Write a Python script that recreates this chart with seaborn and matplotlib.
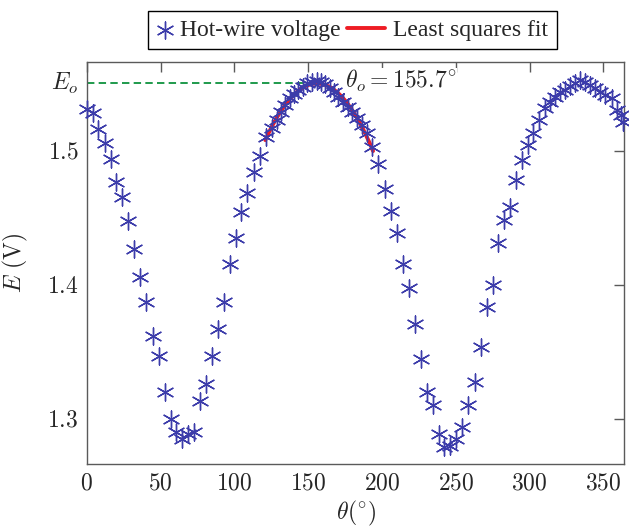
import numpy as np
import pandas as pd
import matplotlib
matplotlib.use("Agg")
import matplotlib.pyplot as plt
from matplotlib.ticker import FuncFormatter
from matplotlib.legend_handler import HandlerLine2D
import seaborn as sns

# ---------------- data ----------------
theta_deg = [0, 4.3, 7.6, 12.2, 16.2, 20, 24.1, 28.1, 31.9, 36, 40.5, 44.6, 48.9,
             53.2, 56.8, 60.6, 64.6, 68.4, 72.7, 76.6, 80.6, 85, 88.7, 93, 97.1,
             101.1, 104.8, 108.9, 113.4, 117.2, 121.8, 125.3, 128.7, 131.6, 134.3,
             137.7, 140.7, 143.4, 146.3, 149.1, 152.4, 155.8, 158.7, 161.4, 164.8,
             167.8, 170.5, 173.8, 177.2, 179.9, 182.9, 186.3, 189.7, 193.0, 197.5,
             202, 206, 210, 214.2, 218.2, 222.4, 226.3, 230.4, 234.4, 238.4, 242.2,
             246.1, 250.2, 254.3, 258.5, 263, 267.1, 271, 275, 278.9, 282.9, 286.8,
             290.9, 294.7, 298.8, 302.6, 306.4, 310.5, 313.9, 317.3, 320.7, 324.1,
             327.4, 330.8, 334.2, 337.6, 341, 344.4, 347.8, 351.1, 355.7, 359.1,
             362, 363.6]
voltage = [1.531, 1.528, 1.516, 1.506, 1.494, 1.4766, 1.4656, 1.4476, 1.427, 1.4058,
           1.3871, 1.3619, 1.3469, 1.320, 1.2995, 1.2898, 1.2846, 1.2888, 1.2903,
           1.3135, 1.3257, 1.3469, 1.3669, 1.3868, 1.4155, 1.4346, 1.454, 1.4682,
           1.4841, 1.496, 1.5104, 1.5167, 1.5229, 1.5291, 1.5341, 1.5391, 1.5421,
           1.5453, 1.5478, 1.5503, 1.5515, 1.552, 1.551, 1.5496, 1.547, 1.544,
           1.5403, 1.5366, 1.5328, 1.5291, 1.5242, 1.5192, 1.513, 1.503, 1.490,
           1.4712, 1.455, 1.4388, 1.4152, 1.3973, 1.3705, 1.3448, 1.3197, 1.3101,
           1.2885, 1.2791, 1.2796, 1.2845, 1.2941, 1.3099, 1.3276, 1.3537, 1.3836,
           1.3998, 1.4309, 1.4483, 1.4582, 1.4781, 1.493, 1.5043, 1.513, 1.5229,
           1.5316, 1.5366, 1.5403, 1.544, 1.5453, 1.5485, 1.5503, 1.5528, 1.5515,
           1.549, 1.5466, 1.544, 1.5416, 1.5391, 1.5304, 1.5266, 1.5216]

fit_range = [121.0, 194.0]       # theta range used for the least squares fit
theta_o = 155.7                  # reported peak angle
theta_o_label = r"$\theta_o = 155.7^{\circ}$"
x_ticks = [0, 50, 100, 150, 200, 250, 300, 350]
y_ticks = [1.3, 1.4, 1.5]
x_limits = [0, 364.2]
y_limits = [1.2662, 1.5662]

# ---------------- styling ----------------
sns.set_style("white")
plt.rcParams["font.family"] = ["Liberation Serif", "DejaVu Serif"]
plt.rcParams["mathtext.fontset"] = "cm"

marker_color = "#3c3caa"
fit_color = "#ee1c24"
dash_color = "#1f9a4c"
spine_color = "#5a5a5a"
FS = 17

df = pd.DataFrame({"theta": theta_deg, "E": voltage})

# least squares (quadratic) fit in the chosen range
sel = df[(df.theta >= fit_range[0]) & (df.theta <= fit_range[1])]
coef = np.polyfit(sel.theta, sel.E, 2)
fit_x = np.linspace(fit_range[0], fit_range[1], 200)
fit_df = pd.DataFrame({"theta": fit_x, "E": np.polyval(coef, fit_x)})
E_o = float(np.polyval(coef, theta_o))

fig = plt.figure(figsize=(6.29, 5.29), dpi=100)
ax = fig.add_axes([86.7 / 629, 1 - 464 / 529, (624.3 - 86.7) / 629, (464 - 62) / 529])

# dashed line at E_o
sns.lineplot(x=[0, theta_o], y=[E_o, E_o], ax=ax, color=dash_color, linewidth=1.4,
             dashes=False, linestyle=(0, (3.8, 2.2)), zorder=1)

# least squares fit
sns.lineplot(data=fit_df, x="theta", y="E", ax=ax, color=fit_color, linewidth=2.8,
             zorder=2, label="Least squares fit")

# data points
sns.scatterplot(data=df, x="theta", y="E", ax=ax, marker=(6, 2, 0), s=150,
                color=marker_color, linewidth=1.0, zorder=3, clip_on=False,
                label="Hot-wire voltage")

ax.set_xlim(*x_limits)
ax.set_ylim(*y_limits)
ax.set_xticks(x_ticks)
ax.set_yticks(y_ticks)
ax.xaxis.set_major_formatter(FuncFormatter(lambda v, p: r"$%g$" % v))
ax.yaxis.set_major_formatter(FuncFormatter(lambda v, p: r"$%g$" % v))
ax.tick_params(direction="in", length=7, width=1.0, color=spine_color,
               labelsize=FS, top=True, right=True, pad=6)
ax.tick_params(axis="x", pad=7)
for sp in ax.spines.values():
    sp.set_color(spine_color)
    sp.set_linewidth(1.0)

ax.set_xlabel(r"$\theta(^{\circ})$", fontsize=FS, labelpad=3)
ax.set_ylabel(r"$E\ \mathrm{(V)}$", fontsize=FS, labelpad=12)

# annotations
ax.text(-0.041, E_o, r"$E_o$", transform=ax.get_yaxis_transform(), ha="center",
        va="center", fontsize=FS)
ax.text(175.0, 1.5518, theta_o_label, ha="left", va="center", fontsize=FS,
        zorder=5, bbox=dict(facecolor="white", edgecolor="none", pad=0.3))


class ExtendedLineHandler(HandlerLine2D):
    """Line handle drawn longer, reaching into the column spacing on its left."""
    def __init__(self, extend, **kw):
        super().__init__(**kw)
        self.extend = extend

    def create_artists(self, legend, orig_handle, xdescent, ydescent, width,
                       height, fontsize, trans):
        return super().create_artists(legend, orig_handle, xdescent + self.extend,
                                      ydescent, width + self.extend - 1.5, height,
                                      fontsize, trans)


# legend
handles, labels = ax.get_legend_handles_labels()
order = [labels.index("Hot-wire voltage"), labels.index("Least squares fit")]
hs = [handles[i] for i in order]
leg = ax.legend(hs, [labels[i] for i in order],
                loc="center", bbox_to_anchor=(0.494, 1.0796), ncol=2, frameon=True,
                fancybox=False, framealpha=1, edgecolor="black", fontsize=FS,
                handlelength=0.75, handletextpad=0.25, columnspacing=1.25,
                borderpad=0.35, borderaxespad=0,
                handler_map={hs[1]: ExtendedLineHandler(extend=16.5)})
leg.get_frame().set_linewidth(1.0)

fig.savefig("out.png", dpi=100)
